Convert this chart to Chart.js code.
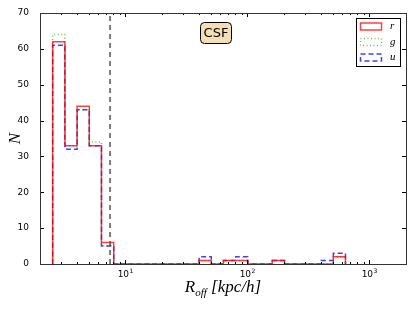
<!DOCTYPE html>
<html>
<head>
<meta charset="utf-8">
<script src="https://cdn.jsdelivr.net/npm/chart.js@4.4.1/dist/chart.umd.min.js"></script>
<style>html,body{margin:0;padding:0;background:#fff}</style>
</head>
<body>
<canvas id="c" width="415" height="312"></canvas>
<script>
// bin edges (kpc/h) (log-spaced, ~0.1 dex)
const binEdges = [2.54, 3.20, 4.03, 5.07, 6.38, 8.04, 10.1, 12.7, 16.0, 20.2, 25.4, 32.0,
                  40.3, 50.7, 63.8, 80.4, 101, 127, 160, 202, 254, 320, 403, 507, 638];
const countsR = [62, 33, 44, 33, 6, 0, 0, 0, 0, 0, 0, 0, 1, 0, 1, 1, 0, 0, 1, 0, 0, 0, 0, 2];
const countsG = [64, 33, 43, 34, 5, 0, 0, 0, 0, 0, 0, 0, 1, 0, 1, 1, 0, 0, 1, 0, 0, 0, 0, 2];
const countsU = [61, 32, 43, 33, 5, 0, 0, 0, 0, 0, 0, 0, 2, 0, 1, 2, 0, 0, 1, 0, 0, 0, 1, 3];
const seriesNames = ['r', 'g', 'u'];
const cutRadius = 7.5;
const xMajor = [10, 100, 1000];
const xMajorExp = ['1', '2', '3'];
const xMinor = [2, 3, 4, 5, 6, 7, 8, 9, 20, 30, 40, 50, 60, 70, 80, 90,
                200, 300, 400, 500, 600, 700, 800, 900];
const yTicks = [0, 10, 20, 30, 40, 50, 60, 70];
const panelLabel = 'CSF';

// histogram outline: start at baseline, one point per bin, back to baseline
function stepPoints(counts) {
    const pts = [{ x: binEdges[0], y: 0 }];
    counts.forEach((c, i) => pts.push({ x: binEdges[i], y: c }));
    pts.push({ x: binEdges[binEdges.length - 1], y: 0 });
    return pts;
}

const histStyle = [
    { color: 'rgba(255,0,0,0.75)', dash: [] },
    { color: 'rgba(0,150,0,0.6)', dash: [1, 2.5] },
    { color: 'rgba(0,0,255,0.75)', dash: [5, 3] },
];

const decor = {
    id: 'decor',
    afterDraw(chart) {
        const { ctx, chartArea: a, scales: { x, y } } = chart;
        ctx.save();
        ctx.strokeStyle = '#000';
        ctx.lineWidth = 1;
        ctx.setLineDash([]);

        // inward ticks on all four sides
        ctx.beginPath();
        yTicks.forEach(v => {
            const py = Math.round(y.getPixelForValue(v)) + 0.5;
            ctx.moveTo(a.left, py); ctx.lineTo(a.left + 4, py);
            ctx.moveTo(a.right, py); ctx.lineTo(a.right - 4, py);
        });
        xMajor.forEach(v => {
            const px = Math.round(x.getPixelForValue(v)) + 0.5;
            ctx.moveTo(px, a.bottom); ctx.lineTo(px, a.bottom - 4);
            ctx.moveTo(px, a.top); ctx.lineTo(px, a.top + 4);
        });
        xMinor.forEach(v => {
            const px = Math.round(x.getPixelForValue(v)) + 0.5;
            ctx.moveTo(px, a.bottom); ctx.lineTo(px, a.bottom - 2);
            ctx.moveTo(px, a.top); ctx.lineTo(px, a.top + 2);
        });
        ctx.stroke();

        // frame
        ctx.strokeStyle = '#333';
        ctx.strokeRect(Math.round(a.left) + 0.5, Math.round(a.top) + 0.5,
                       Math.round(a.right - a.left), Math.round(a.bottom - a.top));

        // x tick labels 10^n
        ctx.fillStyle = '#000';
        ctx.textBaseline = 'alphabetic';
        ctx.textAlign = 'left';
        xMajor.forEach((v, i) => {
            const px = x.getPixelForValue(v);
            ctx.font = '9px "DejaVu Sans"';
            const wb = ctx.measureText('10').width;
            ctx.font = '6px "DejaVu Sans"';
            const we = ctx.measureText(xMajorExp[i]).width;
            const x0 = px - (wb + we) / 2;
            ctx.font = '9px "DejaVu Sans"';
            ctx.fillText('10', x0, a.bottom + 13);
            ctx.font = '6px "DejaVu Sans"';
            ctx.fillText(xMajorExp[i], x0 + wb + 0.5, a.bottom + 9);
        });

        // axis titles
        const big = 'italic 17px "Liberation Serif"';
        const small = 'italic 11px "Liberation Serif"';
        const parts = [['R', big, 0], ['off', small, 4], [' [kpc/h]', big, 0]];
        let w = 0;
        parts.forEach(p => { ctx.font = p[1]; w += ctx.measureText(p[0]).width; });
        let cx = (a.left + a.right) / 2 - w / 2;
        parts.forEach(p => {
            ctx.font = p[1];
            ctx.fillText(p[0], cx, 292 + p[2]);
            cx += ctx.measureText(p[0]).width;
        });
        ctx.save();
        ctx.translate(20, (a.top + a.bottom) / 2);
        ctx.rotate(-Math.PI / 2);
        ctx.font = big;
        ctx.textAlign = 'center';
        ctx.fillText('N', 0, 0);
        ctx.restore();

        // panel label box
        ctx.font = '13px "DejaVu Sans"';
        ctx.textAlign = 'center';
        ctx.textBaseline = 'middle';
        ctx.beginPath();
        ctx.roundRect(200.5, 22.5, 31, 21, 4);
        ctx.fillStyle = '#f5deb3';
        ctx.fill();
        ctx.strokeStyle = '#000';
        ctx.stroke();
        ctx.fillStyle = '#000';
        ctx.fillText(panelLabel, 216, 33.5);

        // legend
        ctx.fillStyle = '#fff';
        ctx.fillRect(356.5, 18.5, 44, 48);
        ctx.strokeStyle = '#000';
        ctx.strokeRect(356.5, 18.5, 44, 48);
        const rows = [26.5, 42, 57.5];
        ctx.font = 'italic 11px "Liberation Serif"';
        ctx.textAlign = 'left';
        chart.data.datasets.slice(0, 3).forEach((ds, i) => {
            ctx.strokeStyle = ds.borderColor;
            ctx.lineWidth = ds.borderWidth;
            ctx.setLineDash(ds.borderDash);
            ctx.strokeRect(360.5, rows[i] - 3.5, 21, 7);
            ctx.setLineDash([]);
            ctx.fillStyle = '#000';
            ctx.fillText(ds.label, 390, rows[i]);
        });
        ctx.restore();
    }
};

const datasets = [countsR, countsG, countsU].map((counts, i) => ({
    label: seriesNames[i],
    data: stepPoints(counts),
    stepped: 'before',
    borderColor: histStyle[i].color,
    borderDash: histStyle[i].dash,
    borderWidth: 1.5,
    pointRadius: 0,
    fill: false,
}));
datasets.push({
    label: 'cut',
    data: [{ x: cutRadius, y: 0 }, { x: cutRadius, y: 70 }],
    borderColor: '#000',
    borderDash: [5, 4],
    borderWidth: 1,
    pointRadius: 0,
});

new Chart(document.getElementById('c'), {
    type: 'line',
    data: { datasets },
    plugins: [decor],
    options: {
        responsive: false,
        animation: false,
        layout: { padding: { top: 13, right: 9, left: 0, bottom: 0 } },
        plugins: { legend: { display: false }, tooltip: { enabled: false } },
        scales: {
            x: {
                type: 'logarithmic',
                min: 2, max: 2000,
                grid: { display: false },
                border: { display: false },
                afterBuildTicks: s => { s.ticks = xMajor.map(v => ({ value: v })); },
                afterFit: s => { s.height = 48; },
                ticks: { display: false },
            },
            y: {
                min: 0, max: 70,
                grid: { display: false },
                border: { display: false },
                afterFit: s => { s.width = 40; },
                ticks: {
                    stepSize: 10,
                    padding: 3,
                    color: '#000',
                    font: { family: 'DejaVu Sans', size: 9 },
                },
            },
        },
    },
});
</script>
</body>
</html>
